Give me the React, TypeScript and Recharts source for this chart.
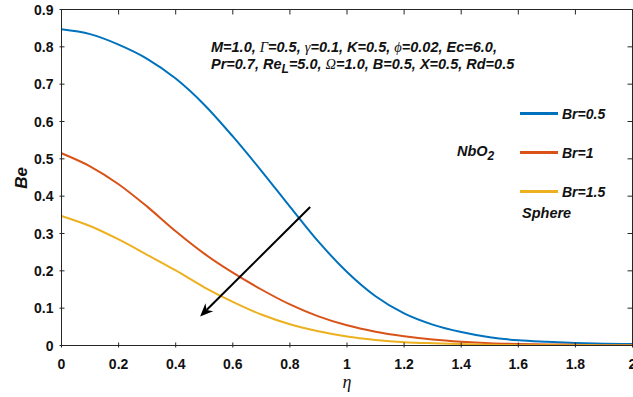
import React from 'react';
import { LineChart, Line, XAxis, YAxis, ReferenceLine } from 'recharts';

// valeurs (Be en fonction de eta)
const eta = [0, 0.1, 0.2, 0.3, 0.4, 0.5, 0.6, 0.7, 0.8, 0.9, 1.0, 1.1, 1.2, 1.3, 1.4, 1.5, 1.6, 1.7, 1.8, 1.9, 2.0];
const br05 = [0.847, 0.834, 0.806, 0.768, 0.715, 0.645, 0.56, 0.468, 0.372, 0.278, 0.197, 0.132, 0.086, 0.056, 0.036, 0.022, 0.014, 0.01, 0.007, 0.005, 0.004];
const br1 = [0.515, 0.48, 0.432, 0.372, 0.306, 0.246, 0.195, 0.15, 0.11, 0.078, 0.054, 0.037, 0.025, 0.016, 0.01, 0.006, 0.004, 0.003, 0.002, 0.001, 0.001];
const br15 = [0.347, 0.32, 0.284, 0.243, 0.201, 0.156, 0.117, 0.083, 0.057, 0.038, 0.024, 0.015, 0.009, 0.006, 0.004, 0.002, 0.001, 0.001, 0.001, 0, 0];

const seriesNames = ['Br=0.5', 'Br=1', 'Br=1.5'];
const seriesColors = ['#0072BD', '#D95319', '#EDB120'];

const xTicks = [0, 0.2, 0.4, 0.6, 0.8, 1, 1.2, 1.4, 1.6, 1.8, 2];
const yTicks = [0, 0.1, 0.2, 0.3, 0.4, 0.5, 0.6, 0.7, 0.8, 0.9];
const X_MAX = 2;
const Y_MAX = 0.9;

// flèche : du haut-droite vers le bas-gauche
const arrowStart = { x: 0.871, y: 0.371 };
const arrowEnd = { x: 0.4855, y: 0.0779 };

const data = eta.map((e, i) => ({ eta: e, a: br05[i], b: br1[i], c: br15[i] }));

const AX = '#262626';
const SANS = 'Liberation Sans, Arial, sans-serif';
const SERIF = 'Liberation Serif, Times New Roman, serif';
const TICK_FONT = { fontFamily: SANS, fontWeight: 700, fontSize: 14, fill: '#111' };

// zone de tracé (mêmes valeurs que les marges du LineChart)
const W = 633;
const H = 397;
const M_TOP = 9.5;
const M_RIGHT = 0.5;
const Y_AXIS_W = 61.5;
const X_AXIS_H = 51.5;
const PL = Y_AXIS_W;
const PR = W - M_RIGHT;
const PT = M_TOP;
const PB = H - X_AXIS_H;

// longueur des graduations (px)
const TL = 5;

const BottomTick = (props: any) => {
  const { x, y, payload } = props;
  return (
    <g>
      <line x1={x} x2={x} y1={y} y2={y - TL} stroke={AX} />
      <text x={x} y={y + 21} textAnchor="middle" {...TICK_FONT}>{payload.value}</text>
    </g>
  );
};

const LeftTick = (props: any) => {
  const { x, y, payload } = props;
  return (
    <g>
      <line x1={x} x2={x + TL} y1={y} y2={y} stroke={AX} />
      <text x={x - 6} y={y + 5} textAnchor="end" {...TICK_FONT}>{payload.value}</text>
    </g>
  );
};

const Arrow = (props: any) => {
  const { x1, y1, x2, y2 } = props;
  const dx = x2 - x1;
  const dy = y2 - y1;
  const len = Math.sqrt(dx * dx + dy * dy);
  const ux = dx / len;
  const uy = dy / len;
  const px = -uy;
  const py = ux;
  const L = 13;
  const HW = 5.5;
  const bx = x2 - ux * L;
  const by = y2 - uy * L;
  const nx = x2 - ux * L * 0.7;
  const ny = y2 - uy * L * 0.7;
  const pts = `${x2},${y2} ${bx + px * HW},${by + py * HW} ${nx},${ny} ${bx - px * HW},${by - py * HW}`;
  return (
    <g>
      <line x1={x1} y1={y1} x2={nx} y2={ny} stroke="#000" strokeWidth={2} />
      <polygon points={pts} fill="#000" />
    </g>
  );
};

const annot = { fontFamily: SANS, fontWeight: 700, fontStyle: 'italic', fontSize: 14.5, fill: '#111' };
const greek = { fontFamily: SERIF, fontWeight: 400, fontStyle: 'italic' };

export default function App() {
  return (
    <div style={{ position: 'absolute', left: 0, top: 0, width: W, height: H, background: '#fff' }}>
      <LineChart width={W} height={H} data={data} margin={{ top: M_TOP, right: M_RIGHT, bottom: 0, left: 0 }}>
        <XAxis dataKey="eta" type="number" domain={[0, X_MAX]} ticks={xTicks} allowDataOverflow
          tickSize={0} tick={<BottomTick />} stroke={AX} height={X_AXIS_H} interval={0} />
        <YAxis type="number" domain={[0, Y_MAX]} ticks={yTicks} allowDataOverflow
          tickSize={0} tick={<LeftTick />} stroke={AX} width={Y_AXIS_W} interval={0} />
        <Line type="monotone" dataKey="a" name={seriesNames[0]} stroke={seriesColors[0]} strokeWidth={2} dot={false} isAnimationActive={false} />
        <Line type="monotone" dataKey="b" name={seriesNames[1]} stroke={seriesColors[1]} strokeWidth={2} dot={false} isAnimationActive={false} />
        <Line type="monotone" dataKey="c" name={seriesNames[2]} stroke={seriesColors[2]} strokeWidth={2} dot={false} isAnimationActive={false} />
        <ReferenceLine segment={[arrowStart, arrowEnd]} shape={<Arrow />} ifOverflow="visible" />
      </LineChart>
      <svg width={W} height={H} style={{ position: 'absolute', left: 0, top: 0, pointerEvents: 'none' }}>
        {/* cadre haut et droite, graduations intérieures */}
        <line x1={PL} x2={PR} y1={PT} y2={PT} stroke={AX} />
        <line x1={PR} x2={PR} y1={PT} y2={PB} stroke={AX} />
        {xTicks.map((t) => {
          const x = PL + (t / X_MAX) * (PR - PL);
          return <line key={'t' + t} x1={x} x2={x} y1={PT} y2={PT + TL} stroke={AX} />;
        })}
        {yTicks.map((t) => {
          const y = PB - (t / Y_MAX) * (PB - PT);
          return <line key={'r' + t} x1={PR} x2={PR - TL} y1={y} y2={y} stroke={AX} />;
        })}
        {/* légende */}
        {seriesNames.map((n, i) => (
          <g key={n}>
            <line x1={520} x2={558} y1={113.5 + i * 39} y2={113.5 + i * 39} stroke={seriesColors[i]} strokeWidth={3} />
            <text x={562} y={118.5 + i * 39} {...annot} fontSize={14}>{n}</text>
          </g>
        ))}
        <text x={211} y={52} {...annot}>
          M=1.0, <tspan {...greek}>Γ</tspan>=0.5, <tspan {...greek}>γ</tspan>=0.1, K=0.5, <tspan {...greek}>ϕ</tspan>=0.02, Ec=6.0,
        </text>
        <text x={211} y={69} {...annot}>
          Pr=0.7, Re<tspan dy={4} fontSize={12}>L</tspan><tspan dy={-4}>=5.0, </tspan><tspan {...greek}>Ω</tspan>=1.0, B=0.5, X=0.5, Rd=0.5
        </text>
        <text x={457} y={156} {...annot}>
          NbO<tspan dy={4} fontSize={12}>2</tspan>
        </text>
        <text x={522} y={218} {...annot}>Sphere</text>
        <text x={0} y={0} transform="translate(27,178) rotate(-90)" textAnchor="middle"
          fontFamily={SANS} fontWeight={700} fontStyle="italic" fontSize={17} fill="#111">Be</text>
        <text x={347} y={388} textAnchor="middle" fontFamily={SERIF} fontStyle="italic" fontSize={18} fill="#111">η</text>
      </svg>
    </div>
  );
}
